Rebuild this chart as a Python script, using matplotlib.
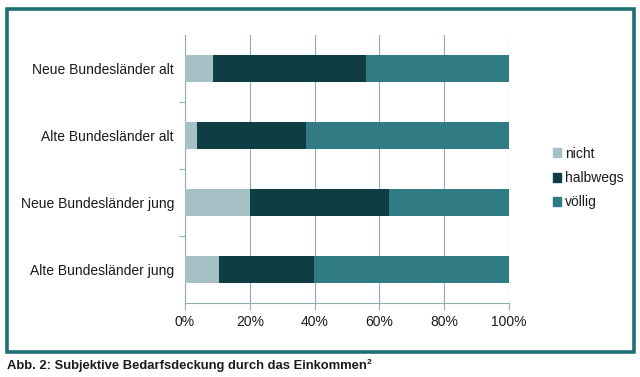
import matplotlib
matplotlib.use("Agg")
import matplotlib.pyplot as plt
from matplotlib.patches import Rectangle, Patch
import numpy as np

plt.rcParams['font.family'] = ['Liberation Sans', 'DejaVu Sans']

categories = ["Alte Bundesländer jung", "Neue Bundesländer jung",
              "Alte Bundesländer alt", "Neue Bundesländer alt"]
nicht = [10.4, 20.0, 3.8, 8.5]
halbwegs = [29.4, 43.0, 33.4, 47.4]
voellig = [60.2, 37.0, 62.8, 44.1]
series_names = ["nicht", "halbwegs", "völlig"]
colors = ["#a5c1c5", "#0f3d44", "#317c84"]
xticks = [0, 20, 40, 60, 80, 100]
xtick_labels = ["0%", "20%", "40%", "60%", "80%", "100%"]
caption = "Abb. 2: Subjektive Bedarfsdeckung durch das Einkommen"
caption_sup = "2"

W, H = 640, 377
fig = plt.figure(figsize=(W / 100, H / 100), dpi=100)

ax = fig.add_axes([185 / W, 1 - 303 / H, (509 - 185) / W, (303 - 35) / H])
y = np.arange(len(categories))
left = np.zeros(len(categories))
for vals, name, c in zip([nicht, halbwegs, voellig], series_names, colors):
    ax.barh(y, vals, left=left, height=0.4, color=c, label=name, zorder=3)
    left = left + np.array(vals)

gridc = "#8fadb1"
txtc = "#1a1a1a"
ax.set_xlim(0, 100)
ax.set_ylim(-0.5, len(categories) - 0.5)
ax.set_xticks(xticks)
ax.set_xticklabels(xtick_labels, fontsize=10, color=txtc)
ax.set_yticks(y)
ax.set_yticklabels(categories, fontsize=10, color=txtc)
ax.set_yticks(np.arange(len(categories) - 1) + 0.5, minor=True)
ax.tick_params(axis='y', which='major', length=0, pad=8)
ax.tick_params(axis='y', which='minor', length=4, color=gridc, width=0.8)
ax.tick_params(axis='x', length=5, color=gridc, width=0.8, pad=4)
ax.grid(axis='x', color=gridc, linewidth=0.8, zorder=0)
for s in ['top', 'right']:
    ax.spines[s].set_visible(False)
for s in ['left', 'bottom']:
    ax.spines[s].set_color(gridc)
    ax.spines[s].set_linewidth(0.8)

handles = [Patch(color=c, label=n) for c, n in zip(colors, series_names)]
fig.legend(handles=handles, loc='center left', bbox_to_anchor=(540 / W, 1 - 178 / H),
           frameon=False, fontsize=10, handlelength=0.6, handleheight=0.6,
           handletextpad=0.3, labelspacing=0.75, labelcolor=txtc)

frame = Rectangle((6.5 / W, 1 - 352 / H), (633.5 - 6.5) / W, (352 - 9) / H,
                  transform=fig.transFigure, fill=False, edgecolor="#1b6f75",
                  linewidth=2.6)
fig.patches.append(frame)

t = fig.text(7 / W, 1 - 366 / H, caption, fontsize=9.4, fontweight='bold',
             color=txtc, va='center', ha='left')
fig.canvas.draw()
bb = t.get_window_extent()
fig.text((bb.x1 + 0.3) / W, 1 - 362 / H, caption_sup, fontsize=6, fontweight='bold',
         color=txtc, va='center', ha='left')

fig.savefig("out.png", dpi=100)
